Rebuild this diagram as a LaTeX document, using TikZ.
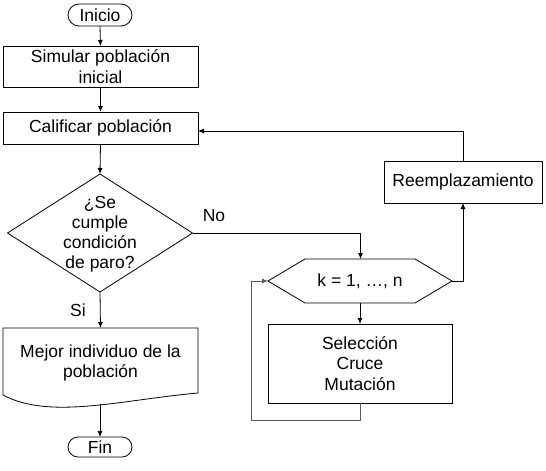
\documentclass[tikz,border=0pt]{standalone}
\usepackage{fontspec}
\setmainfont{Liberation Sans}
\usetikzlibrary{shapes.geometric,shapes.misc,arrows.meta}
\begin{document}
\begin{tikzpicture}[x=1pt,y=-1pt,
  every node/.style={font=\fontsize{17.5}{20.5}\selectfont, inner sep=0pt, outer sep=0pt, align=center},
  lw/.style={line width=0.8pt},
  boxed/.style={draw, lw, rectangle},
  term/.style={draw, lw, rounded rectangle, minimum width=64pt},
  conn/.style={lw, -{Latex[length=6pt,width=5pt]}},
  back/.style={line width=0.9pt, black!65, -{Latex[length=6pt,width=5pt]}}
]
\useasboundingbox (0,0) rectangle (546,471);

\node[term, minimum height=22pt] (inicio) at (100,15) {Inicio};
\node[boxed, minimum width=195pt, minimum height=41pt] (sim) at (100.5,66.5) {Simular población\\inicial};
\node[boxed, minimum width=195pt, minimum height=32pt] (cal) at (100.5,128) {Calificar población};
\node[draw, lw, diamond, minimum width=185pt, minimum height=118pt] (dec) at (100,233) {};
\node[font=\fontsize{17.5}{20}\selectfont] (dectext) at (100,234) {¿Se\\cumple\\condición\\de paro?};

% document shape
\node[minimum width=195pt, minimum height=70pt] (mejor) at (100.5,363) {Mejor individuo de la\\población};
\draw[lw] ([yshift=-67pt]mejor.north west) -- (mejor.north west) -- (mejor.north east) -- ([yshift=-65pt]mejor.north east)
  .. controls (120,400) and (50,420) .. ([yshift=-67pt]mejor.north west) -- cycle;
\coordinate (mejorbot) at (100,404);

\node[term, minimum height=20pt] (fin) at (100,447) {Fin};

% loop hexagon
\node[minimum width=184pt, minimum height=44pt] (loop) at (360,281) {k = 1, …, n};
\draw[lw] (loop.west) -- ([xshift=37pt]loop.north west) -- ([xshift=-37pt]loop.north east)
  -- (loop.east) -- ([xshift=-37pt]loop.south east) -- ([xshift=37pt]loop.south west) -- cycle;

\node[boxed, minimum width=184pt, minimum height=79pt] (ops) at (360,363.5) {Selección\\Cruce\\Mutación};
\node[boxed, minimum width=158pt, minimum height=42pt] (reem) at (463,182) {Reemplazamiento};

% labels
\node (no) at (214,216) {No};
\node (si) at (78,310) {Si};

% connectors
\draw[conn] (inicio.south) -- (sim.north);
\draw[conn] (sim.south) -- (cal.north);
\draw[conn] (cal.south) -- (dec.north);
\draw[conn] (dec.south) -- (mejor.north);
\draw[conn] (mejorbot) -- (fin.north);
\draw[conn] (dec.east) -| ([xshift=0.5pt]loop.north);
\draw[conn] (loop.south) -- (ops.north);
\coordinate (ret) at (251,420);
\draw[back] (ops.south) |- (ret) |- (loop.west);
\draw[conn] (loop.east) -| (reem.south);
\draw[conn] (reem.north) |- ([yshift=-3pt]cal.east);
\end{tikzpicture}
\end{document}
